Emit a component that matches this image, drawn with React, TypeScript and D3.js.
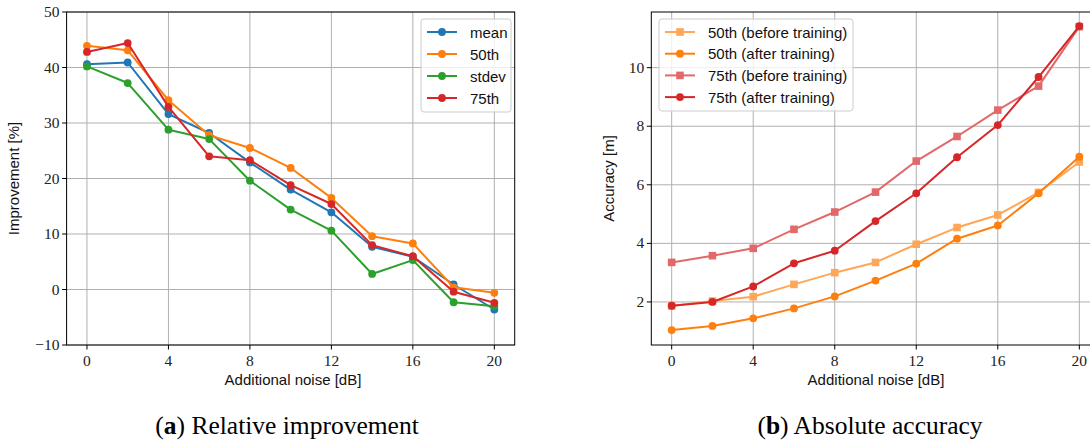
import React from 'react';
import * as d3 from 'd3';

const noise = [0, 2, 4, 6, 8, 10, 12, 14, 16, 18, 20];
const xTicks = [0, 4, 8, 12, 16, 20];

// (a) relative improvement [%]
const meanImp = [40.6, 40.9, 31.6, 28.2, 22.9, 18.0, 13.9, 7.7, 5.9, 0.9, -3.6];
const p50Imp = [43.9, 43.1, 34.1, 27.8, 25.5, 21.9, 16.5, 9.6, 8.3, 0.4, -0.6];
const stdevImp = [40.2, 37.2, 28.8, 27.1, 19.6, 14.4, 10.6, 2.8, 5.3, -2.3, -3.0];
const p75Imp = [42.8, 44.4, 32.9, 24.0, 23.3, 18.8, 15.4, 8.0, 6.0, -0.4, -2.4];
const impTicks = [-10, 0, 10, 20, 30, 40, 50];

// (b) absolute accuracy [m]
const p50Before = [1.86, 2.03, 2.18, 2.6, 3.0, 3.35, 3.97, 4.54, 4.97, 5.74, 6.78];
const p50After = [1.04, 1.18, 1.44, 1.78, 2.19, 2.73, 3.31, 4.16, 4.61, 5.71, 6.96];
const p75Before = [3.35, 3.58, 3.83, 4.48, 5.07, 5.75, 6.81, 7.65, 8.55, 9.37, 11.4];
const p75After = [1.87, 2.0, 2.53, 3.32, 3.75, 4.76, 5.71, 6.94, 8.04, 9.68, 11.42];
const accTicks = [2, 4, 6, 8, 10];

const tickFont = '"Liberation Serif", serif';
const sansFont = '"Liberation Sans", Arial, sans-serif';

type Series = { name: string; values: number[]; color: string; marker: 'circle' | 'square' };

const seriesA: Series[] = [
  { name: 'mean', values: meanImp, color: '#1f77b4', marker: 'circle' },
  { name: '50th', values: p50Imp, color: '#ff7f0e', marker: 'circle' },
  { name: 'stdev', values: stdevImp, color: '#2ca02c', marker: 'circle' },
  { name: '75th', values: p75Imp, color: '#d62728', marker: 'circle' },
];

const seriesB: Series[] = [
  { name: '50th (before training)', values: p50Before, color: '#ffa657', marker: 'square' },
  { name: '50th (after training)', values: p50After, color: '#ff7f0e', marker: 'circle' },
  { name: '75th (before training)', values: p75Before, color: '#e26869', marker: 'square' },
  { name: '75th (after training)', values: p75After, color: '#d62728', marker: 'circle' },
];

function Marker({ x, y, color, marker }: { x: number; y: number; color: string; marker: string }) {
  if (marker === 'square') {
    return <rect x={x - 3.8} y={y - 3.8} width={7.6} height={7.6} fill={color} />;
  }
  return <circle cx={x} cy={y} r={3.9} fill={color} />;
}

function Panel(props: {
  left: number; right: number; top: number; bottom: number;
  yDomain: [number, number]; yTicks: number[]; yLabel: string; yLabelX: number;
  series: Series[]; legend: { x: number; y: number; w: number; h: number; step: number };
  caption: string; captionLetter: string; captionX: number; clipId: string;
}) {
  const { left, right, top, bottom, yDomain, yTicks, series, legend } = props;
  const x = d3.scaleLinear().domain([-1, 21]).range([left, right]);
  const y = d3.scaleLinear().domain(yDomain).range([bottom, top]);
  const line = d3.line<number>().x((_, i) => x(noise[i])).y((d) => y(d));
  const fmt = (v: number) => (v < 0 ? '\u2212' + Math.abs(v) : String(v));
  return (
    <g>
      <defs>
        <clipPath id={props.clipId}>
          <rect x={left} y={top} width={right - left} height={bottom - top} />
        </clipPath>
      </defs>
      {xTicks.map((t) => (
        <line key={'gx' + t} x1={x(t)} x2={x(t)} y1={top} y2={bottom} stroke="#b0b0b0" strokeWidth={1} />
      ))}
      {yTicks.map((t) => (
        <line key={'gy' + t} x1={left} x2={right} y1={y(t)} y2={y(t)} stroke="#b0b0b0" strokeWidth={1} />
      ))}
      <g clipPath={`url(#${props.clipId})`}>
        {series.map((s) => (
          <g key={s.name}>
            <path d={line(s.values) || ''} fill="none" stroke={s.color} strokeWidth={2} strokeLinejoin="round" />
            {s.values.map((v, i) => (
              <Marker key={i} x={x(noise[i])} y={y(v)} color={s.color} marker={s.marker} />
            ))}
          </g>
        ))}
      </g>
      <rect x={left} y={top} width={right - left} height={bottom - top} fill="none" stroke="#000" strokeWidth={1} />
      {xTicks.map((t) => (
        <g key={'tx' + t}>
          <line x1={x(t)} x2={x(t)} y1={bottom} y2={bottom + 4.5} stroke="#000" />
          <text x={x(t)} y={bottom + 21} textAnchor="middle" fontFamily={tickFont} fontSize={15.5} fill="#222">{t}</text>
        </g>
      ))}
      {yTicks.map((t) => (
        <g key={'ty' + t}>
          <line x1={left - 4.5} x2={left} y1={y(t)} y2={y(t)} stroke="#000" />
          <text x={left - 7} y={y(t) + 5} textAnchor="end" fontFamily={tickFont} fontSize={15.5} fill="#222">{fmt(t)}</text>
        </g>
      ))}
      <text x={props.captionX + 6} y={bottom + 40} textAnchor="middle" fontFamily={sansFont} fontSize={15} fill="#111">Additional noise [dB]</text>
      <text transform={`translate(${props.yLabelX},${(top + bottom) / 2}) rotate(-90)`} textAnchor="middle" fontFamily={sansFont} fontSize={15} fill="#111">{props.yLabel}</text>
      <rect x={legend.x} y={legend.y} width={legend.w} height={legend.h} rx={3} fill="#fff" fillOpacity={0.8} stroke="#cccccc" />
      {series.map((s, i) => {
        const ly = legend.y + 13 + i * legend.step;
        return (
          <g key={'lg' + s.name}>
            <line x1={legend.x + 6} x2={legend.x + 36} y1={ly} y2={ly} stroke={s.color} strokeWidth={2} />
            <Marker x={legend.x + 21} y={ly} color={s.color} marker={s.marker} />
            <text x={legend.x + 49} y={ly + 5.5} fontFamily={sansFont} fontSize={15} fill="#111">{s.name}</text>
          </g>
        );
      })}
      <text x={props.captionX} y={434} textAnchor="middle" fontFamily='"Liberation Serif", serif' fontSize={25.5} fill="#000">
        (<tspan fontWeight="bold">{props.captionLetter}</tspan>) {props.caption}
      </text>
    </g>
  );
}

export default function App() {
  return (
    <svg width={1090} height={441} style={{ position: 'absolute', left: 0, top: 0, background: '#fff' }}>
      <rect width={1090} height={441} fill="#fff" />
      <Panel
        left={66.6} right={514.7} top={12} bottom={345}
        yDomain={[-10, 50]} yTicks={impTicks} yLabel="Improvement [%]" yLabelX={19}
        series={seriesA}
        legend={{ x: 421, y: 19, w: 90, h: 93, step: 22 }}
        caption="Relative improvement" captionLetter="a" captionX={287} clipId="clipA"
      />
      <Panel
        left={651.3} right={1099.7} top={12} bottom={345}
        yDomain={[0.53, 11.9]} yTicks={accTicks} yLabel="Accuracy [m]" yLabelX={614}
        series={seriesB}
        legend={{ x: 659, y: 19, w: 194, h: 92, step: 21.7 }}
        caption="Absolute accuracy" captionLetter="b" captionX={870} clipId="clipB"
      />
    </svg>
  );
}
